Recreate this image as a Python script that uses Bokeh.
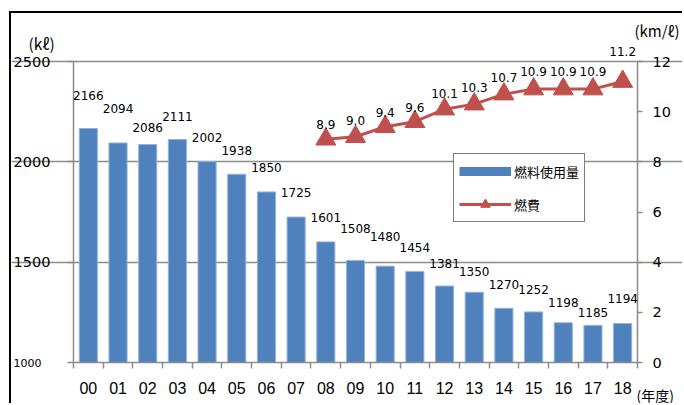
from bokeh.plotting import figure
from bokeh.models import (Range1d, LinearAxis, FixedTicker, LabelSet, Label, Grid,
                          ColumnDataSource, Legend, LegendItem)
from bokeh.core.properties import value
from bokeh.embed import file_html
from bokeh.resources import INLINE

# ---------------- data ----------------
years = ["00", "01", "02", "03", "04", "05", "06", "07", "08", "09",
         "10", "11", "12", "13", "14", "15", "16", "17", "18"]
fuel_use = [2166, 2094, 2086, 2111, 2002, 1938, 1850, 1725, 1601, 1508,
            1480, 1454, 1381, 1350, 1270, 1252, 1198, 1185, 1194]
eff_years = ["08", "09", "10", "11", "12", "13", "14", "15", "16", "17", "18"]
fuel_eff = [8.9, 9.0, 9.4, 9.6, 10.1, 10.3, 10.7, 10.9, 10.9, 10.9, 11.2]
left_ticks = [1000, 1500, 2000, 2500]
right_ticks = [0, 2, 4, 6, 8, 10, 12]

# label nudges (screen px above the mark), layout only
bar_label_nudge = [33, 34, 17, 23, 24, 24, 24, 25, 24, 32, 30, 24, 23, 21, 24, 22, 20, 13, 25]
eff_label_nudge = [15, 16, 14, 14, 16, 17, 17, 18, 18, 18, 30]

BLUE = "#4f81bd"
RED = "#c0504d"
GRAY = "#8c8c8c"
NUM_FONT = "DejaVu Sans"
JP_FONT = "Noto Sans CJK JP"

# ---------------- layout (canvas pixels) ----------------
W, H = 673, 392          # canvas size (figure sits at 11,13 in the window)
OX, OY = 11, 13          # canvas origin in window pixels
PLOT_L, PLOT_R = 62, 626  # x pixel of the left / right value axes
PLOT_T, PLOT_B = 48, 349  # y pixel of top / bottom of the value axes

n = len(years)
ppx = (PLOT_R - PLOT_L) / n
xlo = -0.5 - PLOT_L / ppx
xhi = n - 0.5 + (W - PLOT_R) / ppx
y0, y1 = left_ticks[0], left_ticks[-1]
ppy = (PLOT_B - PLOT_T) / (y1 - y0)
ylo = y0 - (H - PLOT_B) / ppy
yhi = y1 + PLOT_T / ppy
e0, e1 = right_ticks[0], right_ticks[-1]
ppe = (PLOT_B - PLOT_T) / (e1 - e0)
elo = e0 - (H - PLOT_B) / ppe
ehi = e1 + PLOT_T / ppe


def wx(px):
    return xlo + (px - OX) / ppx


def wy(py):
    return yhi - (py - OY) / ppy


xpos = [years.index(y) for y in years]
eff_x = [years.index(y) for y in eff_years]

bars = ColumnDataSource(dict(x=xpos, top=fuel_use, label=[str(v) for v in fuel_use],
                             dy=bar_label_nudge))
effs = ColumnDataSource(dict(x=eff_x, y=fuel_eff, label=[f"{v:.1f}" for v in fuel_eff],
                             dy=eff_label_nudge))

p = figure(width=W, height=H, output_backend="svg", toolbar_location=None,
           x_range=Range1d(xlo, xhi), y_range=Range1d(ylo, yhi),
           x_axis_type=None, y_axis_type=None,
           min_border=0, min_border_left=0, min_border_right=0,
           min_border_top=0, min_border_bottom=0)
p.title.visible = False
p.styles = {"margin-left": "9px", "margin-top": "11px",
            "border-left": "2px solid black", "border-top": "2px solid black"}
p.outline_line_color = None
p.background_fill_color = "white"
p.border_fill_color = "white"
p.extra_y_ranges = {"eff": Range1d(elo, ehi)}

p.xgrid.visible = False
p.ygrid.visible = False

# bars
p.vbar(x="x", top="top", bottom=y0, width=0.61, source=bars,
       fill_color=BLUE, line_color="#95b3d7", line_width=1)

# line + markers
line_r = p.line(x="x", y="y", source=effs, y_range_name="eff",
                line_color=RED, line_width=3)
mark_r = p.scatter(x="x", y="y", source=effs, y_range_name="eff", marker="triangle",
                   size=20, fill_color=RED, line_color=RED)

# legend swatch for the bars (drawn off the visible area)
bar_leg = p.line(x=[xlo - 50, xlo - 49], y=[y0, y0], line_color=BLUE, line_width=9)

# data labels
p.add_layout(LabelSet(x="x", y="top", text="label", source=bars, y_offset="dy",
                      text_align="center", text_baseline="middle",
                      text_font=value(NUM_FONT), text_font_size="12px", text_color="black"))
p.add_layout(LabelSet(x="x", y="y", text="label", source=effs, y_range_name="eff",
                      y_offset="dy", text_align="center", text_baseline="middle",
                      text_font=value(NUM_FONT), text_font_size="12px", text_color="black"))

# ---------------- axes ----------------
xa = LinearAxis(fixed_location=y0, bounds=(-0.5, n - 0.5),
                ticker=FixedTicker(ticks=xpos, minor_ticks=[i - 0.5 for i in range(n + 1)]))
xa.major_label_overrides = {i: y for i, y in enumerate(years)}
xa.major_tick_line_color = None
xa.minor_tick_in = 0
xa.minor_tick_out = 6
xa.minor_tick_line_color = GRAY
xa.minor_tick_line_width = 1.5
xa.axis_line_color = GRAY
xa.axis_line_width = 1.5
xa.major_label_standoff = 13
xa.major_label_text_font = "Liberation Sans"
xa.major_label_text_font_size = "16px"
xa.major_label_text_color = "black"
p.add_layout(xa, "below")

ya = LinearAxis(fixed_location=-0.5, bounds=(y0, y1), ticker=FixedTicker(ticks=left_ticks))
ya.major_label_overrides = {y0: ""}
ya.major_tick_in = 0
ya.major_tick_out = 6
ya.major_tick_line_color = GRAY
ya.major_tick_line_width = 1.5
ya.minor_tick_line_color = None
ya.axis_line_color = GRAY
ya.axis_line_width = 1.5
ya.major_label_standoff = 17
ya.major_label_text_font = NUM_FONT
ya.major_label_text_font_size = "14.5px"
ya.major_label_text_color = "black"
p.add_layout(ya, "left")

ry = LinearAxis(y_range_name="eff", fixed_location=n - 0.5, bounds=(e0, e1),
                ticker=FixedTicker(ticks=right_ticks))
ry.major_tick_in = 0
ry.major_tick_out = 5
ry.major_tick_line_color = GRAY
ry.major_tick_line_width = 1.5
ry.minor_tick_line_color = None
ry.axis_line_color = GRAY
ry.axis_line_width = 1.5
ry.major_label_standoff = 10
ry.major_label_text_font = NUM_FONT
ry.major_label_text_font_size = "14.5px"
ry.major_label_text_color = "black"
p.add_layout(ry, "right")

grid = Grid(dimension=1, ticker=FixedTicker(ticks=left_ticks[1:]), bounds=(-0.5, n - 0.5),
            grid_line_color=GRAY, grid_line_width=1.5)
p.add_layout(grid)

# axis unit labels
p.add_layout(Label(x=wx(28), y=wy(42), text="(kℓ)", text_font=JP_FONT, text_font_size="15.5px",
                   text_baseline="middle", text_align="left", text_color="black"))
p.add_layout(Label(x=wx(41), y=y0, text=str(y0), text_font=NUM_FONT, text_font_size="11px",
                   text_baseline="middle", text_align="right", text_color="black"))
p.add_layout(Label(x=wx(679), y=wy(30), text="(km/ℓ)", text_font=JP_FONT, text_font_size="15px",
                   text_baseline="middle", text_align="right", text_color="black"))
p.add_layout(Label(x=wx(636), y=wy(394), text="(年度)", text_font=JP_FONT, text_font_size="14px",
                   text_baseline="middle", text_align="left", text_color="black"))

# legend
legend = Legend(items=[LegendItem(label="燃料使用量", renderers=[bar_leg]),
                       LegendItem(label="燃費", renderers=[line_r, mark_r])],
                location=(453 - OX, H - (222 - OY)), orientation="vertical",
                glyph_width=52, glyph_height=24, label_height=24, spacing=9, padding=5,
                label_standoff=3, margin=0,
                border_line_color="black", border_line_width=1.5,
                background_fill_color="white", background_fill_alpha=1,
                label_text_font=JP_FONT, label_text_font_size="13px", label_text_color="black")
p.add_layout(legend)

open("out.html", "w").write(file_html(p, INLINE))
